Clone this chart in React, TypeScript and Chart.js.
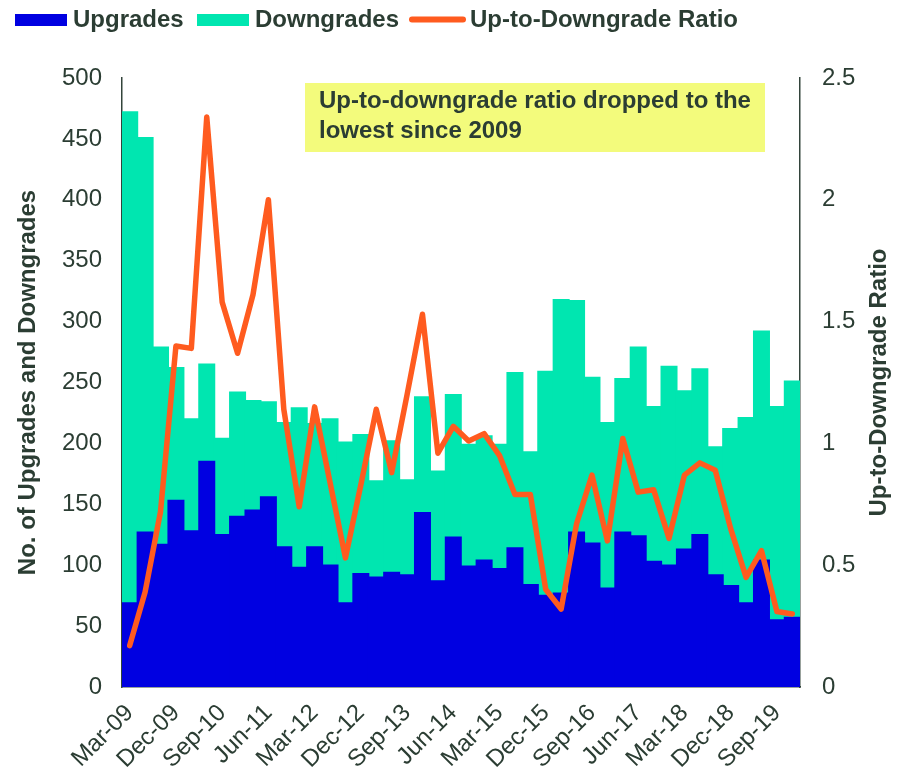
import React, { useEffect, useRef } from "react";
import { Chart, registerables } from "chart.js";

Chart.register(...registerables);

const quarters = [
  "Mar-09", "Jun-09", "Sep-09", "Dec-09",
  "Mar-10", "Jun-10", "Sep-10", "Dec-10",
  "Mar-11", "Jun-11", "Sep-11", "Dec-11",
  "Mar-12", "Jun-12", "Sep-12", "Dec-12",
  "Mar-13", "Jun-13", "Sep-13", "Dec-13",
  "Mar-14", "Jun-14", "Sep-14", "Dec-14",
  "Mar-15", "Jun-15", "Sep-15", "Dec-15",
  "Mar-16", "Jun-16", "Sep-16", "Dec-16",
  "Mar-17", "Jun-17", "Sep-17", "Dec-17",
  "Mar-18", "Jun-18", "Sep-18", "Dec-18",
  "Mar-19", "Jun-19", "Sep-19", "Dec-19",
];

const upgrades = [
  69, 127, 117, 153, 128, 185, 125, 140, 145, 156, 115,
  98, 115, 100, 69, 93, 90, 94, 92, 143, 87, 123,
  99, 104, 97, 114, 84, 75, 77, 127, 118, 81, 127,
  124, 103, 100, 113, 125, 92, 83, 69, 104, 55, 57,
];

const downgrades = [
  403, 324, 162, 109, 92, 80, 79, 102, 90, 78, 102,
  131, 101, 120, 132, 114, 79, 108, 78, 95, 90, 117,
  100, 102, 102, 144, 109, 184, 241, 190, 136, 136, 126,
  155, 127, 163, 130, 136, 105, 129, 152, 188, 175, 194,
];

const ratio = [
  0.17, 0.39, 0.72, 1.40, 1.39, 2.34, 1.58, 1.37, 1.61, 2.00, 1.14,
  0.74, 1.15, 0.84, 0.53, 0.83, 1.14, 0.88, 1.20, 1.53, 0.96, 1.07,
  1.01, 1.04, 0.95, 0.79, 0.79, 0.40, 0.32, 0.67, 0.87, 0.60, 1.02,
  0.80, 0.81, 0.61, 0.87, 0.92, 0.89, 0.65, 0.45, 0.56, 0.31, 0.30,
];

const seriesNames = ["Upgrades", "Downgrades", "Up-to-Downgrade Ratio"];
const leftTitle = "No. of Upgrades and Downgrades";
const rightTitle = "Up-to-Downgrade Ratio";
const noteLines = ["Up-to-downgrade ratio dropped to the", "lowest since 2009"];

const FONT = "'Liberation Sans', Arial, Helvetica, sans-serif";
const TEXT = "#2b3d33";
const AXIS = "#33443b";
const BLUE = "#0000e1";
const TEAL = "#00e6b0";
const ORANGE = "#ff5b1f";
const YELLOW = "#f3fb7c";

export default function App() {
  const ref = useRef<HTMLCanvasElement>(null);

  useEffect(() => {
    const canvas = ref.current;
    if (!canvas) return;

    const overlay = {
      id: "overlay",
      afterDraw(chart: any) {
        const ctx = chart.ctx as CanvasRenderingContext2D;
        const area = chart.chartArea;
        ctx.save();

        // legend
        ctx.font = `bold 24px ${FONT}`;
        ctx.textBaseline = "alphabetic";
        ctx.textAlign = "left";
        ctx.fillStyle = BLUE;
        ctx.fillRect(15, 14, 52, 12);
        ctx.fillStyle = TEXT;
        ctx.fillText(seriesNames[0], 73, 27);
        ctx.fillStyle = TEAL;
        ctx.fillRect(197, 14, 52, 12);
        ctx.fillStyle = TEXT;
        ctx.fillText(seriesNames[1], 255, 27);
        ctx.strokeStyle = ORANGE;
        ctx.lineWidth = 6;
        ctx.lineCap = "round";
        ctx.beginPath();
        ctx.moveTo(412, 19.5);
        ctx.lineTo(463, 19.5);
        ctx.stroke();
        ctx.fillText(seriesNames[2], 470, 27);

        // annotation
        ctx.fillStyle = YELLOW;
        ctx.fillRect(305, 83, 460, 69);
        ctx.fillStyle = TEXT;
        ctx.fillText(noteLines[0], 319, 108);
        ctx.fillText(noteLines[1], 319, 138);

        // axis titles
        const cy = (area.top + area.bottom) / 2;
        ctx.textAlign = "center";
        ctx.save();
        ctx.translate(35, cy);
        ctx.rotate(-Math.PI / 2);
        ctx.fillText(leftTitle, 0, 0);
        ctx.restore();
        ctx.save();
        ctx.translate(886, cy);
        ctx.rotate(-Math.PI / 2);
        ctx.fillText(rightTitle, 0, 0);
        ctx.restore();

        ctx.restore();
      },
    };

    const tickFont = { family: FONT, size: 24 };

    const chart = new Chart(canvas, {
      type: "bar",
      data: {
        labels: quarters,
        datasets: [
          {
            type: "line",
            label: seriesNames[2],
            data: ratio,
            yAxisID: "y1",
            borderColor: ORANGE,
            backgroundColor: ORANGE,
            borderWidth: 5.5,
            pointRadius: 0,
            tension: 0,
            borderJoinStyle: "round",
            borderCapStyle: "round",
            order: 0,
          } as any,
          {
            type: "bar",
            label: seriesNames[0],
            data: upgrades,
            yAxisID: "y",
            backgroundColor: BLUE,
            borderWidth: 0,
            inflateAmount: 0.8,
            categoryPercentage: 1,
            barPercentage: 1,
            order: 1,
          },
          {
            type: "bar",
            label: seriesNames[1],
            data: downgrades,
            yAxisID: "y",
            backgroundColor: TEAL,
            borderWidth: 0,
            inflateAmount: 0.8,
            categoryPercentage: 1,
            barPercentage: 1,
            order: 2,
          },
        ],
      },
      options: {
        responsive: false,
        animation: false,
        layout: { padding: { top: 78, left: 0, right: 0, bottom: 0 } },
        plugins: {
          legend: { display: false },
          tooltip: { enabled: false },
        },
        scales: {
          x: {
            stacked: true,
            grid: { display: false, drawTicks: false },
            border: { display: true, color: AXIS, width: 1.5 },
            ticks: {
              autoSkip: false,
              maxRotation: 45,
              minRotation: 45,
              padding: 12,
              color: TEXT,
              font: tickFont,
              callback: (_v: any, i: number) => (i % 3 === 0 ? quarters[i] : ""),
            },
            afterFit: (s: any) => {
              s.height = 91;
            },
          },
          y: {
            stacked: true,
            position: "left",
            min: 0,
            max: 500,
            grid: { display: false, drawTicks: false },
            border: { display: true, color: AXIS, width: 1.5 },
            ticks: { stepSize: 50, padding: 20, color: TEXT, font: tickFont },
            afterFit: (s: any) => {
              s.width = 122;
            },
          },
          y1: {
            position: "right",
            min: 0,
            max: 2.5,
            grid: { display: false, drawTicks: false },
            border: { display: true, color: AXIS, width: 1.5 },
            ticks: {
              stepSize: 0.5,
              padding: 22,
              color: TEXT,
              font: tickFont,
              callback: (v: any) => String(Math.round(Number(v) * 10) / 10),
            },
            afterFit: (s: any) => {
              s.width = 105;
            },
          },
        },
      } as any,
      plugins: [overlay],
    });

    return () => chart.destroy();
  }, []);

  return (
    <div style={{ position: "absolute", left: 0, top: 0, width: 905, height: 778 }}>
      <canvas ref={ref} width={905} height={778} style={{ display: "block" }} />
    </div>
  );
}
